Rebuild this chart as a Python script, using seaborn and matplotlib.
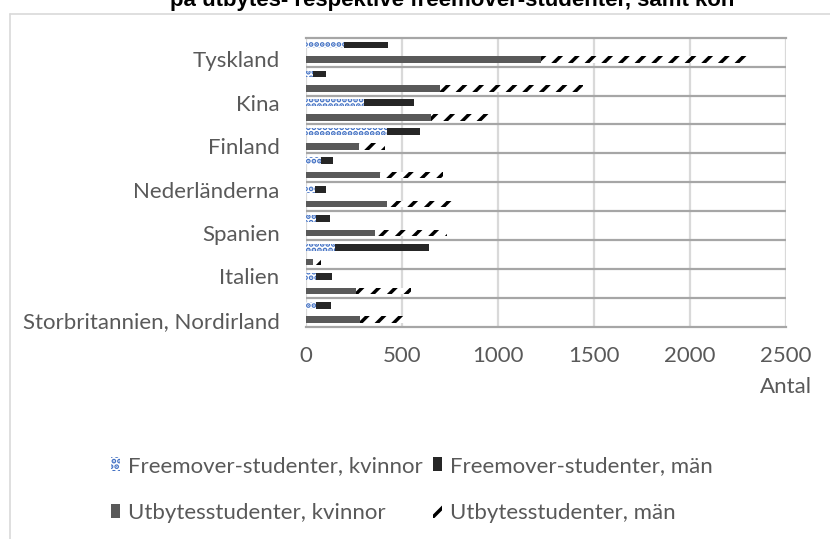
import matplotlib
matplotlib.use("Agg")
import matplotlib.pyplot as plt
from matplotlib.lines import Line2D
from matplotlib.patches import Patch
import numpy as np
import pandas as pd
import seaborn as sns

# one group per country, top to bottom; the blank names were never labelled in the original
countries = ["Tyskland", "", "Kina", "Finland", "", "Nederländerna",
             "Spanien", "", "Italien", "Storbritannien, Nordirland"]
freemover_kvinnor = [200, 35, 300, 420, 80, 45, 50, 150, 50, 50]
freemover_man = [225, 70, 265, 175, 60, 60, 75, 490, 85, 80]
utbytes_kvinnor = [1225, 700, 650, 275, 385, 420, 360, 38, 260, 280]
utbytes_man = [1080, 745, 325, 135, 330, 340, 375, 38, 285, 235]

x_ticks = [0, 500, 1000, 1500, 2000, 2500]
title = "på utbytes- respektive freemover-studenter, samt kön"
series_names = ["Freemover-studenter, kvinnor", "Freemover-studenter, män",
                "Utbytesstudenter, kvinnor", "Utbytesstudenter, män"]

# two rows per country (freemover row, then utbytes row), like the excel sheet
rows = []
for i, land in enumerate(countries):
    rows.append({"land": land, "fk": freemover_kvinnor[i], "fm": freemover_man[i],
                 "uk": 0, "um": 0})
    rows.append({"land": land, "fk": 0, "fm": 0,
                 "uk": utbytes_kvinnor[i], "um": utbytes_man[i]})
df = pd.DataFrame(rows)
df["rad"] = np.arange(len(df))
df["f_total"] = df.fk + df.fm
df["u_total"] = df.uk + df.um

sns.set_style("white")
plt.rcParams["font.family"] = ["Lato", "DejaVu Sans"]
plt.rcParams["hatch.linewidth"] = 2.5

GREY_TEXT = "#595959"
W, H = 830, 539
fig = plt.figure(figsize=(W / 100, H / 100), dpi=100)
ax = fig.add_axes([306 / W, 1 - 327 / H, 480 / W, (327 - 37.7) / H])

bar_w = 0.46
common = dict(y="rad", orient="h", width=bar_w, saturation=1, linewidth=0,
              errorbar=None, ax=ax)
sns.barplot(data=df, x="f_total", color="#262626", **common)
sns.barplot(data=df, x="fk", color="white", hatch="...", edgecolor="#4472c4", **common)
sns.barplot(data=df, x="u_total", color="white", hatch="//", edgecolor="black", **common)
sns.barplot(data=df, x="uk", color="#595959", **common)

# axes
ax.set_xlim(0, 2500)
ax.set_xticks(x_ticks)
ax.set_xticklabels([str(v) for v in x_ticks])
label_rows = list(range(1, len(df), 3))
ax.set_yticks(label_rows)
ax.set_yticklabels(df.land.iloc[label_rows])
ax.set_yticks(np.arange(1.5, len(df) - 1, 2), minor=True)
ax.set_xlabel("")
ax.set_ylabel("")
ax.tick_params(axis="both", which="both", length=0, labelsize=16, colors=GREY_TEXT)
ax.tick_params(axis="x", pad=14)
ax.tick_params(axis="y", pad=19)
ax.grid(axis="x", color="#d9d9d9", lw=1.6)
ax.grid(axis="y", which="minor", color="#a6a6a6", lw=1.6)
ax.set_axisbelow(True)
for s in ["left", "right"]:
    ax.spines[s].set_visible(False)
for s in ["top", "bottom"]:
    ax.spines[s].set_color("#a6a6a6")
    ax.spines[s].set_linewidth(1.6)

# chart frame (cut off at the right) and the cut-off title
fig.add_artist(Line2D([10 / W, 10 / W], [0, 1 - 14 / H], color="#d9d9d9", lw=1.2))
fig.add_artist(Line2D([10 / W, 1], [1 - 14 / H, 1 - 14 / H], color="#d9d9d9", lw=1.2))
fig.text(452 / W, 1 - 6 / H, title, ha="center", va="baseline",
         fontsize=16, fontweight="bold", family="Liberation Sans", color="black")

fig.text(812 / W, 1 - 387 / H, "Antal", ha="right", va="center",
         fontsize=16, color=GREY_TEXT)

handles = [
    Patch(facecolor="white", edgecolor="#4472c4", hatch="...", lw=0),
    Patch(facecolor="#262626", lw=0),
    Patch(facecolor="#595959", lw=0),
    Patch(facecolor="white", edgecolor="black", hatch="//", lw=0),
]
order = [0, 2, 1, 3]
fig.legend([handles[i] for i in order], [series_names[i] for i in order],
           ncol=2, loc="upper left", bbox_to_anchor=(111 / W, 1 - 456 / H),
           frameon=False, fontsize=16, labelcolor=GREY_TEXT, borderpad=0,
           borderaxespad=0, handlelength=0.42, handleheight=0.6,
           handletextpad=0.35, columnspacing=0.45, labelspacing=1.22)

fig.savefig("out.png", dpi=100)
